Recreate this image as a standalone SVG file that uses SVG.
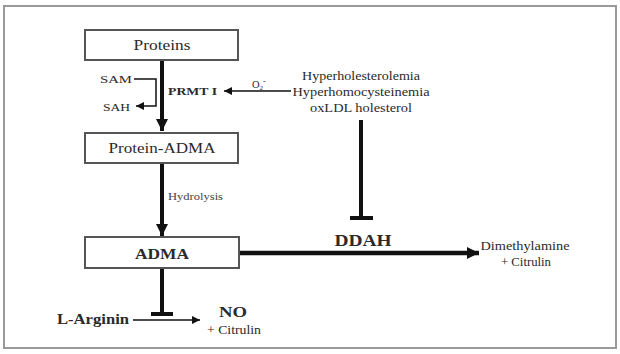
<svg xmlns="http://www.w3.org/2000/svg" width="620" height="354" viewBox="0 0 620 354">
<style>
text{font-family:"Liberation Serif","Times New Roman",serif;fill:#2a2a2a}
.box{fill:#fff;stroke:#555;stroke-width:2}
.b{font-weight:bold}
.sm{font-size:11px;fill:#444}
.ln{stroke:#111;fill:none}
</style>
<defs>
<marker id="ahBig" markerUnits="userSpaceOnUse" markerWidth="14" markerHeight="14" refX="12" refY="6" orient="auto"><path d="M0,0 L12,6 L0,12 Z" fill="#111"/></marker>
<marker id="ahMid" markerUnits="userSpaceOnUse" markerWidth="14" markerHeight="14" refX="10" refY="5" orient="auto"><path d="M0,0 L10,5 L0,10 Z" fill="#111"/></marker>
<marker id="ahSm" markerUnits="userSpaceOnUse" markerWidth="10" markerHeight="10" refX="8" refY="4" orient="auto"><path d="M0,0 L8,4 L0,8 Z" fill="#111"/></marker>
</defs>
<rect x="0" y="0" width="620" height="354" fill="#fff"/>
<rect x="4" y="6" width="612" height="342" fill="#fff" stroke="#9a9a9a" stroke-width="2"/>

<g id="connectors">
<line class="ln" x1="162" y1="60" x2="162" y2="131" stroke-width="4" marker-end="url(#ahBig)"/>
<polyline class="ln" points="134,79 156,79 156,106 136,106" stroke-width="1.5" stroke="#444" marker-end="url(#ahSm)"/>
<line class="ln" x1="291" y1="91" x2="224" y2="91" stroke-width="1.5" marker-end="url(#ahSm)"/>
<line class="ln" x1="162" y1="164" x2="162" y2="236" stroke-width="4" marker-end="url(#ahBig)"/>
<line class="ln" x1="361" y1="120" x2="361" y2="218" stroke-width="4"/>
<line class="ln" x1="350" y1="218" x2="373" y2="218" stroke-width="4"/>
<line class="ln" x1="240" y1="253" x2="479" y2="253" stroke-width="4.5" marker-end="url(#ahBig)"/>
<line class="ln" x1="162" y1="268" x2="162" y2="314" stroke-width="4"/>
<line class="ln" x1="151" y1="314" x2="173" y2="314" stroke-width="4"/>
<line class="ln" x1="133" y1="320" x2="200" y2="320" stroke-width="1.5" marker-end="url(#ahSm)"/>
</g>

<g id="proteins"><rect class="box" x="85" y="30" width="153" height="30"/><text x="162" y="50" font-size="15" text-anchor="middle" textLength="57" lengthAdjust="spacingAndGlyphs">Proteins</text></g>
<g id="protein-adma"><rect class="box" x="85" y="133" width="153" height="30"/><text x="162" y="153" font-size="15" text-anchor="middle" textLength="107" lengthAdjust="spacingAndGlyphs">Protein-ADMA</text></g>
<g id="adma"><rect class="box" x="85" y="237" width="154" height="31"/><text class="b" x="162" y="259" font-size="15" text-anchor="middle" textLength="54" lengthAdjust="spacingAndGlyphs">ADMA</text></g>
<g id="sam"><text x="100" y="83" font-size="11" fill="#333" textLength="32" lengthAdjust="spacingAndGlyphs">SAM</text></g>
<g id="sah"><text x="103" y="111" font-size="11" fill="#333" textLength="27" lengthAdjust="spacingAndGlyphs">SAH</text></g>
<g id="prmt"><text class="b" x="168" y="95" font-size="11" textLength="49" lengthAdjust="spacingAndGlyphs">PRMT I</text></g>
<g id="o2"><text x="252" y="88" font-size="10.5" fill="#333">O<tspan font-size="7" dy="2">2</tspan><tspan font-size="8" dy="-6">-</tspan></text></g>
<g id="risk">
<text x="361" y="80" font-size="11.5" text-anchor="middle" fill="#444" textLength="118" lengthAdjust="spacingAndGlyphs">Hyperholesterolemia</text>
<text x="361" y="96" font-size="11.5" text-anchor="middle" fill="#444" textLength="137" lengthAdjust="spacingAndGlyphs">Hyperhomocysteinemia</text>
<text x="361" y="112" font-size="11.5" text-anchor="middle" fill="#444" textLength="102" lengthAdjust="spacingAndGlyphs">oxLDL holesterol</text>
</g>
<g id="hydrolysis"><text class="sm" x="168" y="200" textLength="55" lengthAdjust="spacingAndGlyphs" font-size="10">Hydrolysis</text></g>
<g id="ddah"><text class="b" x="363" y="246" font-size="17" text-anchor="middle" textLength="57" lengthAdjust="spacingAndGlyphs">DDAH</text></g>
<g id="dimethylamine">
<text x="525" y="250" font-size="11.5" text-anchor="middle" fill="#444" textLength="89" lengthAdjust="spacingAndGlyphs">Dimethylamine</text>
<text x="526" y="266" font-size="11.5" text-anchor="middle" fill="#444" textLength="50" lengthAdjust="spacingAndGlyphs">+ Citrulin</text>
</g>
<g id="larginin"><text class="b" x="57" y="324" font-size="15" textLength="72" lengthAdjust="spacingAndGlyphs">L-Arginin</text></g>
<g id="no">
<text class="b" x="233" y="317" font-size="14" text-anchor="middle" textLength="28" lengthAdjust="spacingAndGlyphs">NO</text>
<text x="234" y="334" font-size="11.5" text-anchor="middle" fill="#444" textLength="54" lengthAdjust="spacingAndGlyphs">+ Citrulin</text>
</g>
</svg>
